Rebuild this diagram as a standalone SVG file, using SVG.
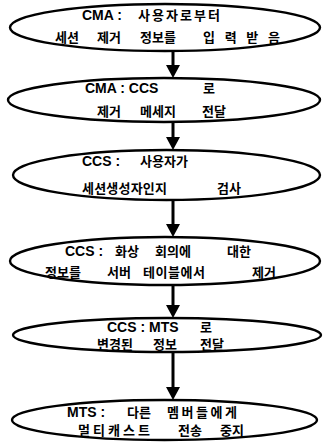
<svg xmlns="http://www.w3.org/2000/svg" width="323" height="443" viewBox="0 0 323 443">
  <defs>
    <style>
      .bg { fill: #ffffff; }
      .shape { fill: #ffffff; stroke: #000000; stroke-width: 2.4; }
      .flow { stroke: #000000; stroke-width: 3; fill: none; }
      .tip { fill: #000000; }
      .lbl { font-family: "Liberation Sans", "Noto Sans CJK KR", sans-serif; font-size: 14px; font-weight: bold; fill: #000000; }
      .ko { font-size: 13px; }
    </style>
  </defs>

  <rect class="bg" x="0" y="0" width="323" height="443"/>

  <!-- connectors between the steps -->
  <g id="connectors">
    <path class="flow" d="M173,52 V68"/><polygon class="tip" points="166,65 180,65 173,78"/>
    <path class="flow" d="M173,123 V140"/><polygon class="tip" points="166,137 180,137 173,150"/>
    <path class="flow" d="M173,201 V227"/><polygon class="tip" points="166,224 180,224 173,237"/>
    <path class="flow" d="M173,286 V308"/><polygon class="tip" points="166,305 180,305 173,318"/>
    <path class="flow" d="M173,353 V390"/><polygon class="tip" points="166,387 180,387 173,400"/>
  </g>

  <!-- step 1 -->
  <g id="step1">
    <ellipse class="shape" cx="165" cy="27.5" rx="155" ry="23.5"/>
    <text class="lbl" y="20"><tspan x="82">CMA :</tspan><tspan class="ko" x="138" textLength="82" lengthAdjust="spacing">사용자로부터</tspan></text>
    <text class="lbl ko" y="42"><tspan x="55">세션</tspan><tspan x="97">제거</tspan><tspan x="140">정보를</tspan><tspan x="203" textLength="77" lengthAdjust="spacing">입력받음</tspan></text>
  </g>

  <!-- step 2 -->
  <g id="step2">
    <ellipse class="shape" cx="164" cy="100" rx="156" ry="22"/>
    <text class="lbl" y="93"><tspan x="85">CMA : CCS</tspan><tspan class="ko" x="203">로</tspan></text>
    <text class="lbl ko" y="116"><tspan x="97">제거</tspan><tspan x="140">메세지</tspan><tspan x="202">전달</tspan></text>
  </g>

  <!-- step 3 -->
  <g id="step3">
    <ellipse class="shape" cx="166.5" cy="175" rx="153.5" ry="25"/>
    <text class="lbl" y="166"><tspan x="82">CCS :</tspan><tspan class="ko" x="140">사용자가</tspan></text>
    <text class="lbl ko" y="193"><tspan x="82" textLength="85" lengthAdjust="spacing">세션생성자인지</tspan><tspan x="217">검사</tspan></text>
  </g>

  <!-- step 4 -->
  <g id="step4">
    <ellipse class="shape" cx="165" cy="261" rx="155" ry="24"/>
    <text class="lbl" y="256"><tspan x="65">CCS :</tspan><tspan class="ko" x="115">화상</tspan><tspan class="ko" x="155">회의에</tspan><tspan class="ko" x="227">대한</tspan></text>
    <text class="lbl ko" y="277"><tspan x="45">정보를</tspan><tspan x="107">서버</tspan><tspan x="143" textLength="62" lengthAdjust="spacing">테이블에서</tspan><tspan x="252">제거</tspan></text>
  </g>

  <!-- step 5 -->
  <g id="step5">
    <ellipse class="shape" cx="167" cy="335" rx="154" ry="17"/>
    <text class="lbl" y="332"><tspan x="107">CCS : MTS</tspan><tspan class="ko" x="200">로</tspan></text>
    <text class="lbl ko" y="349"><tspan x="97">변경된</tspan><tspan x="153">정보</tspan><tspan x="200">전달</tspan></text>
  </g>

  <!-- step 6 -->
  <g id="step6">
    <ellipse class="shape" cx="164.5" cy="420" rx="152.5" ry="20"/>
    <text class="lbl" y="417"><tspan x="67">MTS :</tspan><tspan class="ko" x="127">다른</tspan><tspan class="ko" x="167" textLength="70" lengthAdjust="spacing">멤버들에게</tspan></text>
    <text class="lbl ko" y="435"><tspan x="78" textLength="72" lengthAdjust="spacing">멀티캐스트</tspan><tspan x="178">전송</tspan><tspan x="220">중지</tspan></text>
  </g>
</svg>
